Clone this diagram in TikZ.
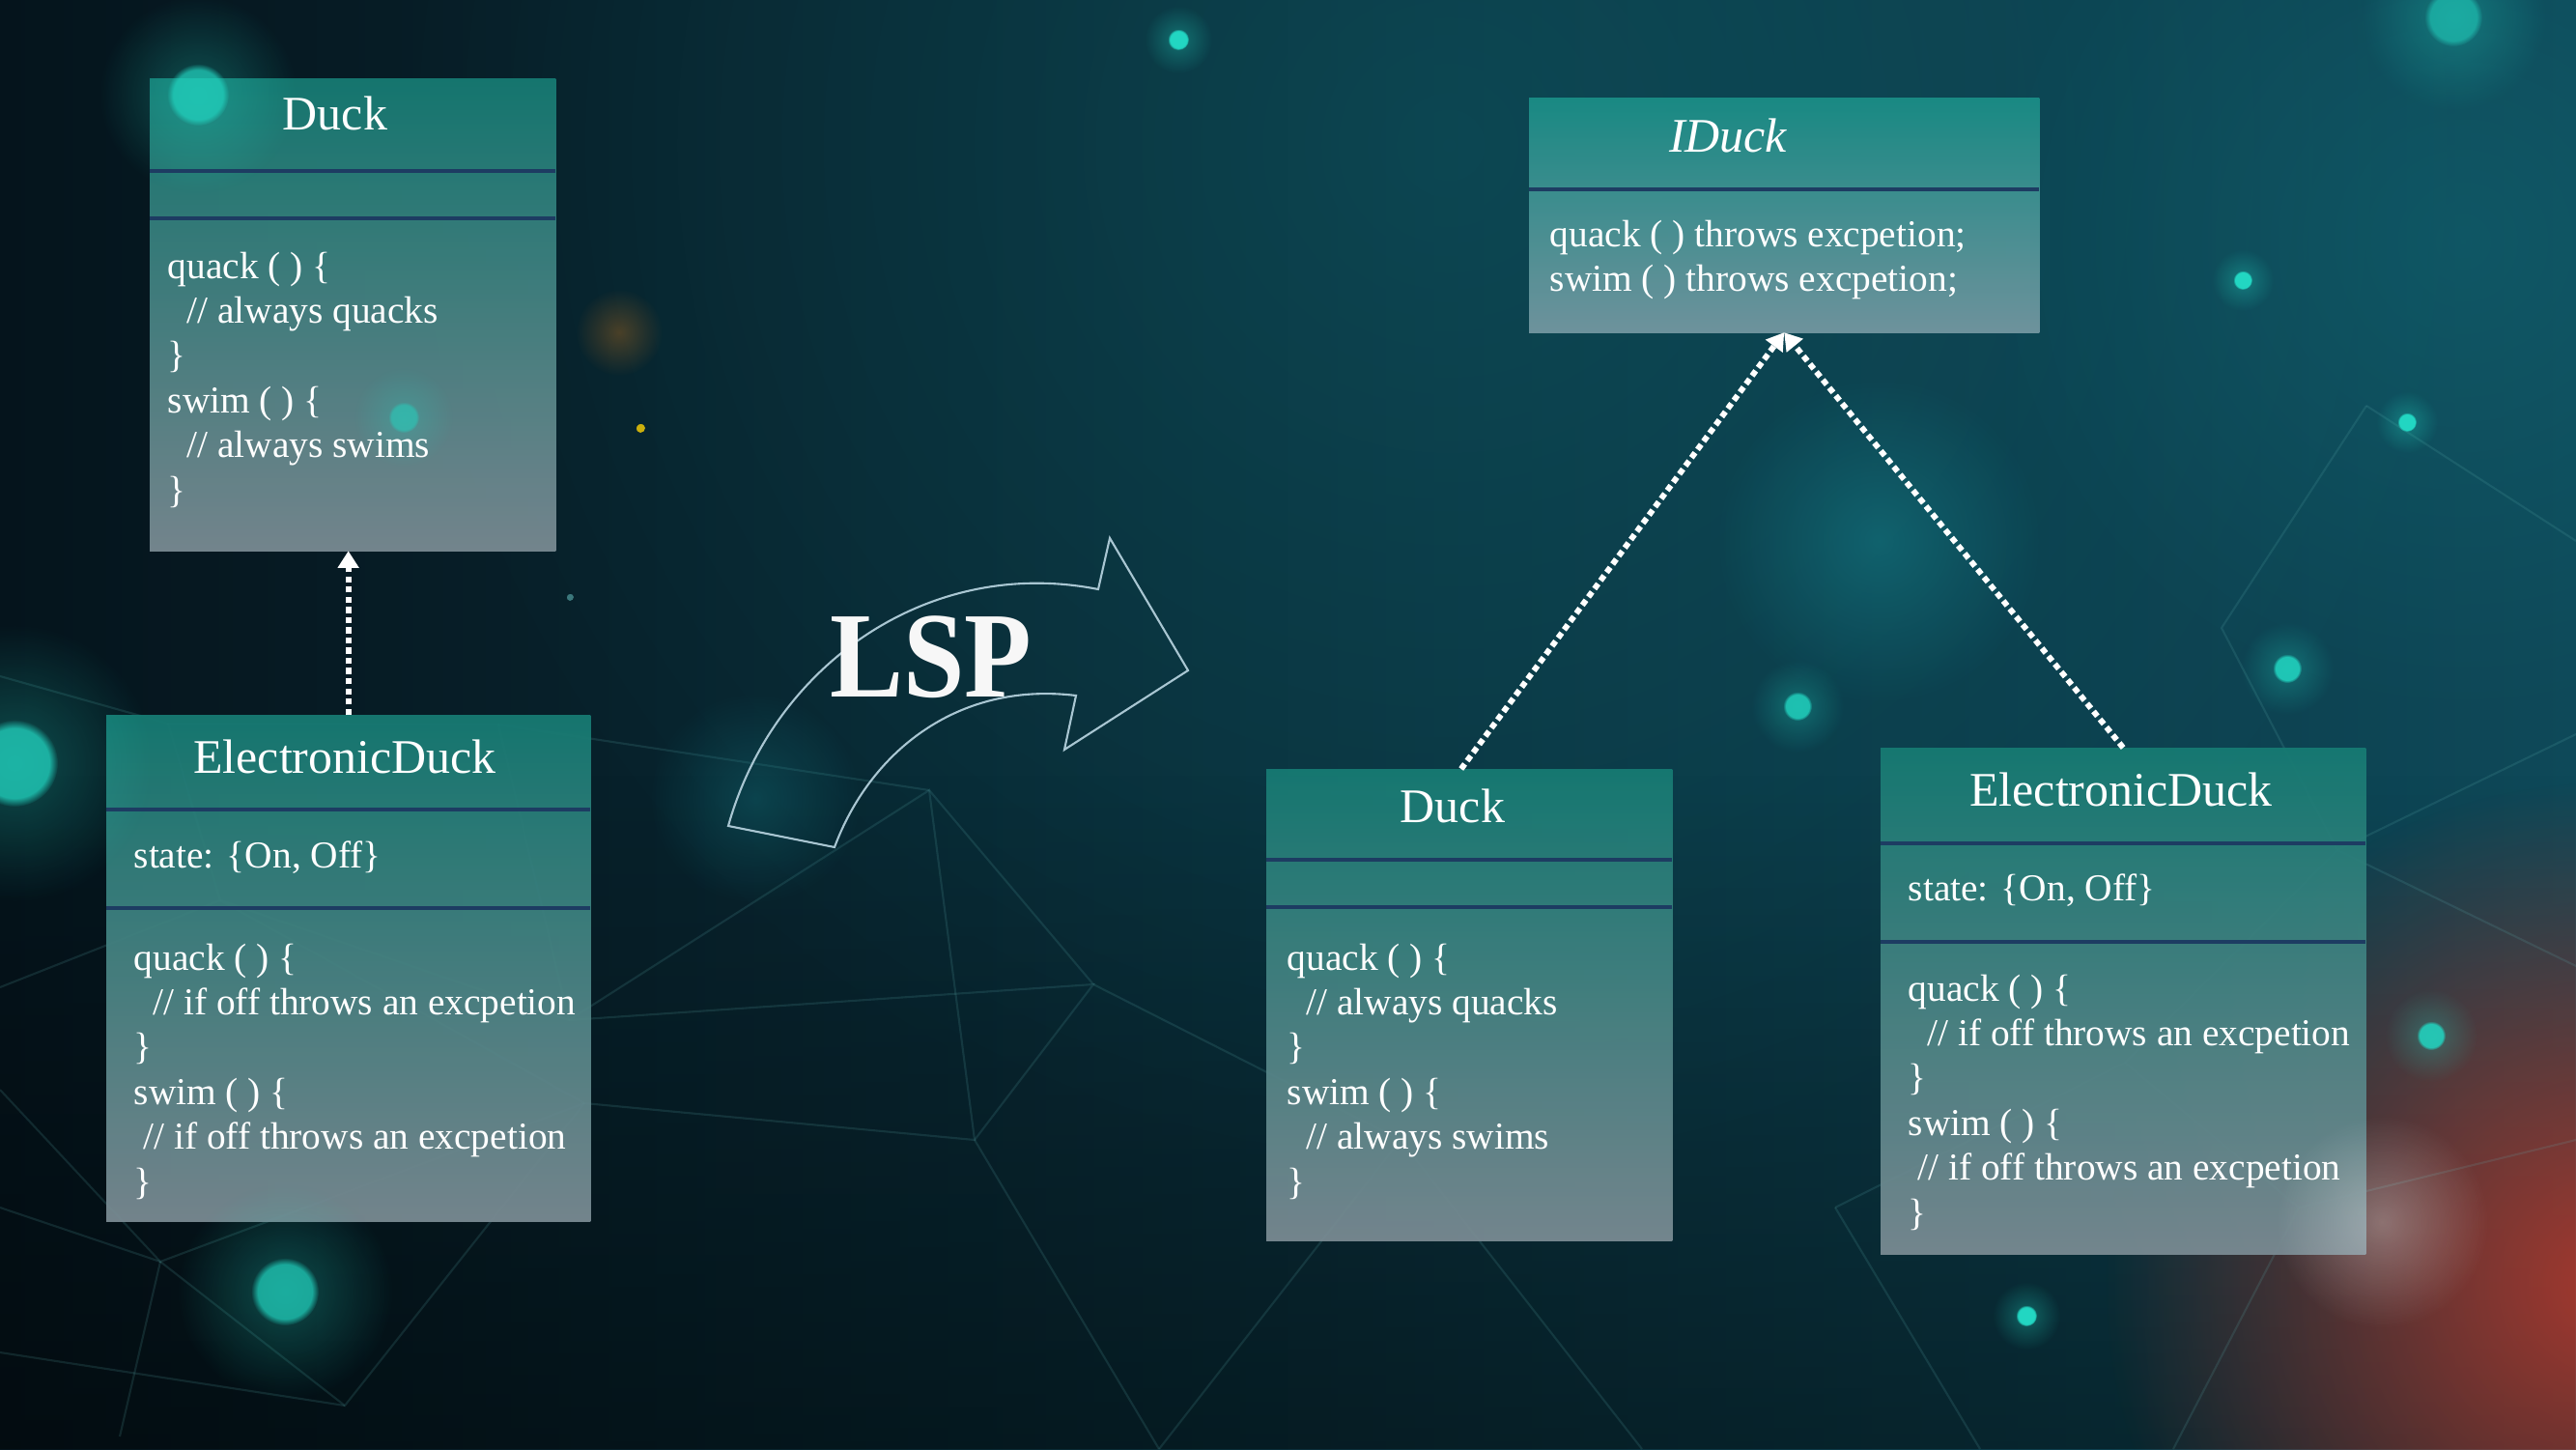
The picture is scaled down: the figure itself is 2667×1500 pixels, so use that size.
\documentclass[tikz,border=0pt]{standalone}
\usepackage{fontspec}
\setmainfont{Liberation Serif}
\usetikzlibrary{arrows.meta,fadings,calc}
\definecolor{bgA}{HTML}{05141C}
\definecolor{bgB}{HTML}{0E4959}
\definecolor{boxtop}{HTML}{167B73}
\definecolor{boxbot}{HTML}{7A8B93}
\definecolor{itop}{HTML}{1A8E87}
\definecolor{ibot}{HTML}{7497A1}
\definecolor{divc}{HTML}{1D3C62}
\definecolor{glowc}{HTML}{22D6C2}
\definecolor{netc}{HTML}{5FB3B3}
\definecolor{arrowc}{HTML}{A9C6D2}
\definecolor{redglow}{HTML}{C0392B}
\definecolor{tealglow}{HTML}{147C86}
\tikzfading[name=softglow, inner color=transparent!0, outer color=transparent!100]
\tikzset{
  classbox/.style={draw=none, top color=boxtop, bottom color=boxbot, fill opacity=0.94,
    inner sep=0pt, outer sep=0pt, anchor=north west},
  ibox/.style={classbox, top color=itop, bottom color=ibot},
  divider/.style={draw=divc, line width=0.9pt},
  title/.style={anchor=base, inner sep=0pt, text=white, font=\fontsize{14.2pt}{16pt}\selectfont},
  body/.style={anchor=north west, align=left, inner sep=0pt, text=white,
    font=\fontsize{11.2pt}{13.2pt}\selectfont},
  inh/.style={draw=white, line width=1.7pt, dash pattern=on 1.8pt off 1.2pt,
    -{Triangle[width=6pt,length=5pt,fill=white]}},
  net/.style={draw=netc, draw opacity=0.16, line width=0.6pt},
  lsparrow/.style={draw=arrowc, line width=0.6pt, line join=miter}
}
\begin{document}
\begin{tikzpicture}[x=0.01cm,y=-0.01cm]
\useasboundingbox (0,0) rectangle (2667,1500);
\clip (0,0) rectangle (2667,1500);
% background
\shade[left color=bgA, right color=bgB] (0,0) rectangle (2667,1500);
\fill[tealglow, opacity=0.28, path fading=softglow] (1500,150) circle (1100);
\fill[tealglow, opacity=0.30, path fading=softglow] (2550,250) circle (500);
\fill[black, opacity=0.40, path fading=north] (0,800) rectangle (2667,1500);
\fill[redglow, opacity=0.85, path fading=softglow] (2700,1330) circle (520);
% network lines
\draw[net] (174,749) -- (228,932) -- (0,1022);
\draw[net] (174,749) -- (0,700);
\draw[net] (174,749) -- (516,750) -- (589,1056);
\draw[net] (228,932) -- (589,1056) -- (962,818) -- (1009,1180) -- (605,1142) -- (228,932);
\draw[net] (589,1056) -- (1132,1019) -- (1009,1180);
\draw[net] (962,818) -- (1132,1019);
\draw[net] (605,1142) -- (166,1306) -- (0,1128);
\draw[net] (166,1306) -- (357,1455) -- (605,1142);
\draw[net] (166,1306) -- (124,1487);
\draw[net] (0,1250) -- (166,1306);
\draw[net] (516,750) -- (962,818);
\draw[net] (357,1455) -- (0,1400);
\draw[net] (1009,1180) -- (1200,1500);
\draw[net] (1132,1019) -- (1450,1180) -- (1700,1500);
\draw[net] (1450,1180) -- (1200,1500);
\draw[net] (2200,1100) -- (2420,880) -- (2667,760);
\draw[net] (2200,1100) -- (2380,1250) -- (2667,1180);
\draw[net] (2420,880) -- (2667,1000);
\draw[net] (2380,1250) -- (2250,1500);
\draw[net] (2450,420) -- (2667,560);
\draw[net] (2450,420) -- (2300,650) -- (2420,880);
\draw[net] (1900,1250) -- (2200,1100);
\draw[net] (1900,1250) -- (2050,1500);
% class boxes
\node[classbox, minimum width=4.20cm, minimum height=4.88cm] (d1) at (155,82) {};
\node[classbox, minimum width=5.01cm, minimum height=5.24cm] (e1) at (110,740) {};
\node[ibox, minimum width=5.28cm, minimum height=2.42cm] (i) at (1583,102) {};
\node[classbox, minimum width=4.20cm, minimum height=4.88cm] (d2) at (1311,796) {};
\node[classbox, minimum width=5.02cm, minimum height=5.24cm] (e2) at (1947,774) {};
% glows
\foreach \x/\y/\r/\o/\g in {1220/41/11/1/0.35, 2322/290/10/1/0.35, 2492/437/10/1/0.35,
  2368/692/15/0.85/0.3, 1861/731/15/0.8/0.3, 2517/1072/15/0.85/0.3, 2098/1362/11/1/0.35,
  418/432/16/0.5/0.25, 205/98/32/0.7/0.3, 15/790/45/0.75/0.3, 295/1337/35/0.7/0.3,
  2540/18/30/0.55/0.3} {
  \fill[glowc, opacity=\g, path fading=softglow] (\x,\y) circle (\r*3.2);
  \fill[glowc, opacity=\o, path fading=circle with fuzzy edge 20 percent] (\x,\y) circle (\r);
}
\fill[tealglow, opacity=0.55, path fading=softglow] (1945,560) circle (170);
\fill[tealglow, opacity=0.35, path fading=softglow] (782,826) circle (110);
\fill[white, opacity=0.30, path fading=softglow] (2466,1265) circle (110);
\fill[orange!60!brown, opacity=0.3, path fading=softglow] (641,344) circle (45);
\fill[yellow!70!orange, opacity=0.8, path fading=circle with fuzzy edge 20 percent] (663,443) circle (5);
\fill[netc, opacity=0.6, path fading=circle with fuzzy edge 20 percent] (590,618) circle (4);
% dividers
\draw[divider] (d1.west |- 0,177) -- (d1.east |- 0,177);
\draw[divider] (d1.west |- 0,226) -- (d1.east |- 0,226);
\draw[divider] (e1.west |- 0,838) -- (e1.east |- 0,838);
\draw[divider] (e1.west |- 0,940) -- (e1.east |- 0,940);
\draw[divider] (i.west |- 0,196) -- (i.east |- 0,196);
\draw[divider] (d2.west |- 0,890) -- (d2.east |- 0,890);
\draw[divider] (d2.west |- 0,939) -- (d2.east |- 0,939);
\draw[divider] (e2.west |- 0,873) -- (e2.east |- 0,873);
\draw[divider] (e2.west |- 0,975) -- (e2.east |- 0,975);
% titles
\node[title] (d1t) at (347,135) {Duck};
\node[title] (e1t) at (357,800) {ElectronicDuck};
\node[title] (it) at (1789,158) {\itshape IDuck};
\node[title] (d2t) at (1504,851) {Duck};
\node[title] (e2t) at (2196,834) {ElectronicDuck};
% bodies
\node[body] (d1m) at (173,260) {quack ( ) \{\\\hspace*{0.5em}// always quacks\\\}\\swim ( ) \{\\\hspace*{0.5em}// always swims\\\}};
\node[body] (e1a) at (138,870) {state: \{On, Off\}};
\node[body] (e1m) at (138,976) {quack ( ) \{\\\hspace*{0.5em}// if off throws an excpetion\\\}\\swim ( ) \{\\\hspace*{0.25em}// if off throws an excpetion\\\}};
\node[body] (im) at (1604,227) {quack ( ) throws excpetion;\\swim ( ) throws excpetion;};
\node[body] (d2m) at (1332,976) {quack ( ) \{\\\hspace*{0.5em}// always quacks\\\}\\swim ( ) \{\\\hspace*{0.5em}// always swims\\\}};
\node[body] (e2a) at (1975,904) {state: \{On, Off\}};
\node[body] (e2m) at (1975,1008) {quack ( ) \{\\\hspace*{0.5em}// if off throws an excpetion\\\}\\swim ( ) \{\\\hspace*{0.25em}// if off throws an excpetion\\\}};
% LSP arrow
\draw[lsparrow] (864,877) .. controls (900,780) and (990,705) .. (1114,720) -- (1102,776) -- (1230,694) -- (1149,557) -- (1137,610) .. controls (960,575) and (800,690) .. (754,855) -- cycle;
\node[inner sep=0pt, text=white!94!gray, xscale=0.9, font=\fontsize{36pt}{40pt}\selectfont\bfseries] (lsp) at (964,680) {LSP};
% inheritance connectors
\draw[inh] (e1.north) -- (e1.north |- d1.south);
\draw[inh] ($(d2.north west)!0.48!(d2.north east)$) -- (i.south);
\draw[inh] (e2.north) -- (i.south);
\end{tikzpicture}
\end{document}
